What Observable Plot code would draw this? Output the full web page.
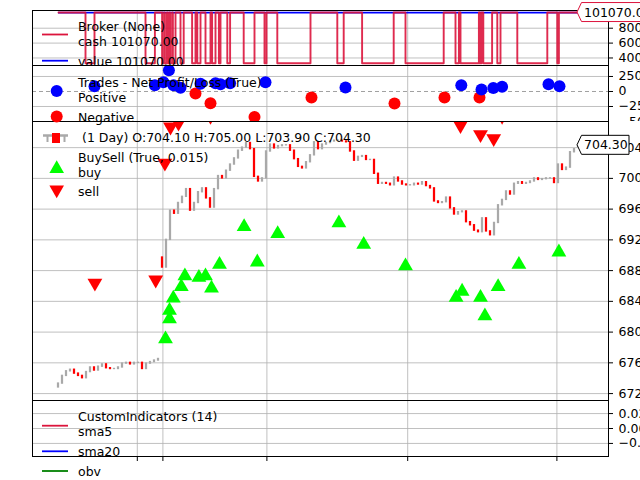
<!DOCTYPE html>
<html>
<head>
<meta charset="utf-8">
<script src="https://cdn.jsdelivr.net/npm/d3@7"></script>
<script src="https://cdn.jsdelivr.net/npm/@observablehq/plot@0.6"></script>
<style>
  html, body { margin: 0; padding: 0; background: white; overflow: hidden; }
  #wrap { position: relative; width: 640px; height: 480px; overflow: hidden; background: white; }
  .panel { position: absolute; left: 0; }
  #overlay { position: absolute; left: 0; top: 0; pointer-events: none; }
</style>
</head>
<body>
<div id="wrap">
  <div class="panel" id="p1" style="top:0px"></div>
  <div class="panel" id="p2" style="top:65px"></div>
  <div class="panel" id="p3" style="top:121px"></div>
  <div class="panel" id="p4" style="top:400px"></div>
</div>
<script>
// ---------------- data ----------------
const lastBar = 130;
const xDomain = [-6.5, 137.5];
const dateTicks = [19.7, 26.1, 52.1, 87.3, 124.6];

// price bars (bar index = position in array)
const opens = [672.8, 673.3, 674.3, 674.9, 675.1, 674.6, 674.3, 674.0, 674.8, 675.4,
 675.0, 675.5, 675.8, 675.3, 675.2, 675.2, 675.4, 675.9, 676.0, 675.8,
 676.0, 676.0, 675.2, 675.9, 676.1, 676.3, 689.7, 688.4, 692.0, 695.8,
 695.4, 696.8, 697.6, 698.6, 695.8, 696.8, 698.2, 698.7, 697.4, 696.2,
 698.6, 700.3, 700.0, 701.0, 701.8, 702.6, 703.6, 704.0, 704.6, 703.8,
 700.2, 699.6, 700.0, 703.5, 704.4, 703.9, 704.2, 704.3, 704.3, 703.6,
 702.5, 701.5, 701.3, 702.1, 703.0, 704.7, 703.8, 704.4, 704.6, 704.8,
 704.9, 704.9, 704.8, 704.7, 703.5, 702.3, 702.8, 702.9, 702.4, 702.4,
 700.6, 699.3, 699.4, 699.3, 699.1, 700.1, 699.6, 699.2, 699.1, 699.1,
 699.3, 699.2, 699.5, 699.0, 698.7, 697.0, 696.8, 696.9, 697.5, 696.1,
 695.3, 695.6, 695.7, 694.3, 693.9, 693.2, 693.0, 694.8, 693.1, 692.6,
 694.2, 696.5, 697.2, 698.3, 697.9, 699.3, 699.5, 699.3, 699.4, 699.6,
 700.0, 699.8, 699.9, 700.0, 700.0, 699.4, 701.8, 701.1, 701.4, 703.4,
 704.1];
const closes = [673.3, 674.3, 674.9, 675.1, 674.6, 674.3, 674.0, 674.8, 675.4, 675.0,
 675.5, 675.8, 675.3, 675.2, 675.2, 675.4, 675.9, 676.0, 675.8, 676.0,
 676.0, 675.2, 675.9, 676.1, 676.3, 676.5, 688.4, 692.0, 695.8, 695.4,
 696.8, 697.6, 698.6, 695.8, 696.8, 698.2, 698.7, 697.4, 696.2, 698.6,
 700.3, 700.0, 701.0, 701.8, 702.6, 703.6, 704.0, 704.6, 703.8, 700.2,
 699.6, 700.0, 703.5, 704.4, 703.9, 704.2, 704.3, 704.3, 703.6, 702.5,
 701.5, 701.3, 702.1, 703.0, 704.7, 703.8, 704.4, 704.6, 704.8, 704.9,
 704.9, 704.8, 704.7, 703.5, 702.3, 702.8, 702.9, 702.4, 702.4, 700.6,
 699.3, 699.4, 699.3, 699.1, 700.1, 699.6, 699.2, 699.1, 699.1, 699.3,
 699.2, 699.5, 699.0, 698.7, 697.0, 696.8, 696.9, 697.5, 696.1, 695.3,
 695.6, 695.7, 694.3, 693.9, 693.2, 693.0, 694.8, 693.1, 692.6, 694.2,
 696.5, 697.2, 698.3, 697.9, 699.3, 699.5, 699.3, 699.4, 699.6, 700.0,
 699.8, 699.9, 700.0, 700.0, 699.4, 701.8, 701.1, 701.4, 703.4, 703.8,
 704.3];
const priceTicks = [672, 676, 680, 684, 688, 692, 696, 700, 704];

// buy / sell signals
const buyBar = [26.75, 27.75, 27.75, 28.7, 30.7, 31.6, 35.1, 36.75, 38.25, 40.25, 46.4, 49.7, 54.8, 70.1, 76.3, 86.75, 99.4, 100.9, 105.5, 106.6, 109.9, 115.1, 125.1];
const buyPrice = [679.1, 681.7, 682.8, 684.4, 685.9, 687.3, 687.1, 687.3, 685.7, 688.8, 693.7, 689.1, 692.8, 694.2, 691.4, 688.6, 684.5, 685.3, 684.5, 682.1, 685.9, 688.8, 690.4];
const sellBar = [9.1, 24.3, 26.6, 28.0, 30.0, 38.0, 100.5, 105.5, 108.8, 110.9];
const sellPrice = [686.4, 686.8, 702.0, 706.7, 707.2, 708.1, 706.9, 705.7, 705.2, 708.1];

// trades net profit / loss
const tradeBar = [9.0, 24.1, 26.25, 27.6, 28.75, 30.5, 34.25, 35.5, 38.0, 39.25, 40.5, 42.9, 49.0, 51.75, 63.25, 71.75, 84.0, 96.5, 100.7, 105.25, 105.75, 108.7, 110.9, 122.5, 125.25];
const tradePnl = [88, 105, 155, 355, 105, 63, -33, 130, -195, 138, 122, 138, -423, 155, -100, 67, -200, -100, 105, -100, 33, 60, 77, 122, 88];

// broker
const cashIdle = 101070;
const cashInvested = 33000;
const valueLast = 101070;
const holdFrom = [6.75, 21.75, 25.9, 26.6, 27.3, 27.9, 28.6, 30.5, 33.4, 34.7, 36.75, 38.4, 40.1, 42.2, 46.3, 51.5, 54.7, 69.7, 75.9, 86.75, 99.25, 100.5, 105.4, 106.2, 109.7, 114.7, 124.7];
const holdTo   = [9.0, 24.1, 26.4, 27.1, 27.7, 28.4, 29.25, 31.3, 34.25, 35.5, 38.0, 39.25, 40.5, 42.9, 49.0, 52.0, 63.0, 71.3, 83.8, 96.3, 100.1, 105.1, 105.75, 108.4, 110.5, 122.2, 125.1];
const brokerTicks = [40000, 60000, 80000];

// custom indicators (no values plotted)
const indTicks = [0.02, 0, -0.02];

// ---------------- tables ----------------
const bars = closes.map((c, i) => ({i, open: opens[i], close: c}));
const buys = buyBar.map((b, k) => ({b, p: buyPrice[k]}));
const sells = sellBar.map((b, k) => ({b, p: sellPrice[k]}));
const trades = tradeBar.map((b, k) => ({b, pnl: tradePnl[k]}));
const cashPoints = [{b: 0, cash: cashIdle}];
holdFrom.forEach((f, k) => {
  cashPoints.push({b: f, cash: cashIdle}, {b: f, cash: cashInvested},
                  {b: holdTo[k], cash: cashInvested}, {b: holdTo[k], cash: cashIdle});
});
cashPoints.push({b: lastBar, cash: cashIdle});

const triangleDown = {
  draw(context, size) {
    const y = Math.sqrt(size / (3 * Math.sqrt(3)));
    const x = Math.sqrt(3) * y;
    context.moveTo(0, 2 * y);
    context.lineTo(x, -y);
    context.lineTo(-x, -y);
    context.closePath();
  }
};

const FONT = "DejaVu Sans";
const GRID = {stroke: "#b0b0b0", strokeOpacity: 1, strokeWidth: 0.8};
const common = {
  width: 640, marginLeft: 32, marginRight: 32,
  style: {fontFamily: FONT, fontSize: "12.5px", background: "white", color: "black", overflow: "hidden"},
  x: {domain: xDomain, axis: null}
};
const yAxis = (ticks, fmt) => Plot.axisY(ticks, {anchor: "right", tickSize: 4, tickPadding: 6, label: null, tickFormat: fmt, fill: "black", stroke: "black"});

// Panel 1: broker
const p1 = Plot.plot({
  ...common, height: 65, marginTop: 10, marginBottom: 0,
  y: {domain: [29900, 103800]},
  marks: [
    Plot.gridX(dateTicks, GRID),
    Plot.gridY(brokerTicks, GRID),
    yAxis(brokerTicks, d => String(d)),
    Plot.ruleY([valueLast], {x1: 0, x2: lastBar, stroke: "blue", strokeWidth: 1.8}),
    Plot.line(cashPoints, {x: "b", y: "cash", stroke: "crimson", strokeWidth: 1.9, strokeOpacity: 0.9, clip: true}),
    Plot.frame({stroke: "black"})
  ]
});

// Panel 2: trades
const p2 = Plot.plot({
  ...common, height: 56, marginTop: 0, marginBottom: 0,
  y: {domain: [-500, 433]},
  marks: [
    Plot.gridX(dateTicks, GRID),
    Plot.gridY([250, -250], GRID),
    Plot.ruleY([0], {stroke: "#a0a0a0", strokeDasharray: "4,3", strokeWidth: 1}),
    yAxis([250, 0, -250, -500]),
    Plot.dot(trades, {x: "b", y: "pnl", r: 6, fill: d => d.pnl >= 0 ? "blue" : "red", clip: true}),
    Plot.frame({stroke: "black"})
  ]
});

// Panel 3: price
const p3 = Plot.plot({
  ...common, height: 279, marginTop: 0, marginBottom: 0,
  y: {domain: [671.1, 707.4]},
  marks: [
    Plot.gridX(dateTicks, GRID),
    Plot.gridY(priceTicks, GRID),
    yAxis(priceTicks),
    Plot.rect(bars, {x1: d => d.i - 0.28, x2: d => d.i + 0.28, y1: "open", y2: "close",
      fill: d => d.close >= d.open ? "#a9a9a9" : "red", insetTop: -0.7, insetBottom: -0.7}),
    Plot.dot(buys, {x: "b", y: "p", symbol: "triangle", r: 5.5, fill: "#00ff00", clip: true}),
    Plot.dot(sells, {x: "b", y: "p", symbol: triangleDown, r: 5.5, fill: "red", clip: true}),
    Plot.frame({stroke: "black"})
  ]
});

// Panel 4: custom indicators
const p4 = Plot.plot({
  ...common, height: 80, marginTop: 0, marginBottom: 24,
  y: {domain: [-0.0375, 0.0375]},
  marks: [
    Plot.gridX(dateTicks, GRID),
    Plot.gridY(indTicks, GRID),
    yAxis(indTicks, d3.format(".2f")),
    Plot.axisX(dateTicks, {anchor: "bottom", tickSize: 5, tickFormat: () => "", label: null, stroke: "black"}),
    Plot.frame({stroke: "black"})
  ]
});

document.getElementById("p1").appendChild(p1);
document.getElementById("p2").appendChild(p2);
document.getElementById("p3").appendChild(p3);
document.getElementById("p4").appendChild(p4);

// ---------------- legends & tags overlay ----------------
const NS = "http://www.w3.org/2000/svg";
const ov = document.createElementNS(NS, "svg");
ov.setAttribute("id", "overlay");
ov.setAttribute("width", 640);
ov.setAttribute("height", 480);
document.getElementById("wrap").appendChild(ov);
function el(tag, attrs, text) {
  const e = document.createElementNS(NS, tag);
  for (const k in attrs) e.setAttribute(k, attrs[k]);
  if (text != null) e.textContent = text;
  ov.appendChild(e);
  return e;
}
function label(x, y, t) {
  return el("text", {x, y, "dominant-baseline": "central", "font-family": FONT, "font-size": "12.5px", fill: "black"}, t);
}
function legLine(y, color) {
  el("line", {x1: 42, x2: 68, y1: y, y2: y, stroke: color, "stroke-width": 1.8});
}
// broker legend
legLine(34.5, "crimson");
label(78, 26, "Broker (None)");
label(78, 41.7, "cash " + cashIdle.toFixed(2));
legLine(60.7, "blue");
label(78, 61, "value " + valueLast.toFixed(2));
// trades legend
el("circle", {cx: 56.7, cy: 91, r: 6, fill: "blue"});
label(78, 82.3, "Trades - Net Profit/Loss (True)");
label(78, 97.7, "Positive");
el("circle", {cx: 56.7, cy: 116.5, r: 6, fill: "red"});
label(78, 117, "Negative");
// price legend
el("line", {x1: 43, x2: 68, y1: 135.5, y2: 135.5, stroke: "#a9a9a9", "stroke-width": 2.5});
el("line", {x1: 47.5, x2: 47.5, y1: 135.5, y2: 142, stroke: "#a9a9a9", "stroke-width": 2});
el("line", {x1: 64.5, x2: 64.5, y1: 135.5, y2: 142, stroke: "#a9a9a9", "stroke-width": 2});
el("rect", {x: 52, y: 133, width: 8, height: 10, fill: "red"});
label(82, 137.3, "(1 Day) O:" + opens[lastBar].toFixed(2) + " H:705.00 L:703.90 C:" + closes[lastBar].toFixed(2));
el("polygon", {points: "56.7,160.3 64,173 49.4,173", fill: "#00ff00"});
label(78, 157.7, "BuySell (True, 0.015)");
label(78, 172.7, "buy");
el("polygon", {points: "49.4,185.5 64,185.5 56.7,198.2", fill: "red"});
label(78, 191.7, "sell");
// indicators legend
legLine(425.7, "crimson");
label(78, 416.7, "CustomIndicators (14)");
label(78, 431.7, "sma5");
legLine(451.3, "blue");
label(78, 451.3, "sma20");
legLine(471, "green");
label(78, 471, "obv");

// value tags (drawn over the last-value tick labels, as in the reference)
function tag(xTip, y, text, color, w) {
  const h = 9.5;
  el("path", {d: `M${xTip},${y} L${xTip + 4.5},${y - h} L${xTip + w},${y - h} L${xTip + w},${y + h} L${xTip + 4.5},${y + h} Z`,
    fill: "white", stroke: color, "stroke-width": 1});
  label(xTip + 7, y, text);
}
const xTip = p3.scale("x").apply(lastBar) - 1;
tag(xTip, 121 + p3.scale("y").apply(closes[lastBar]), closes[lastBar].toFixed(2), "black", 52);
tag(xTip, p1.scale("y").apply(valueLast), valueLast.toFixed(2), "crimson", 80);
</script>
</body>
</html>
